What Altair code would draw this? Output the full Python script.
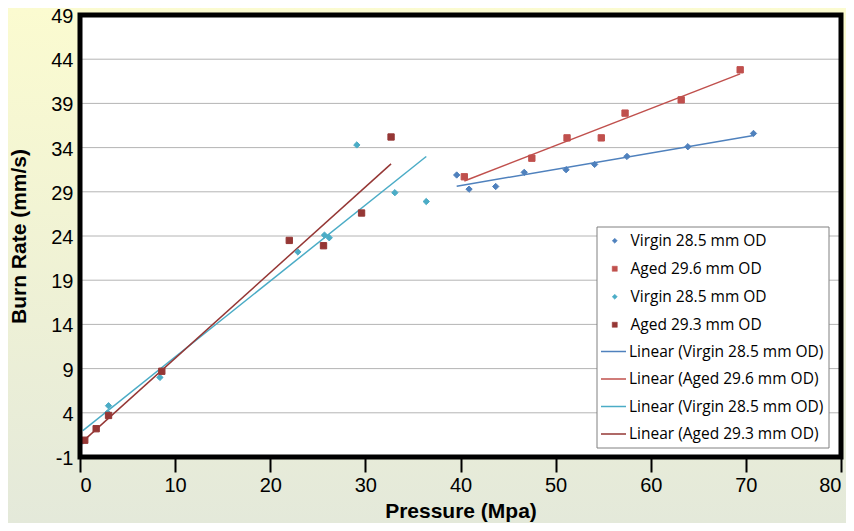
import altair as alt
import pandas as pd

# ---- data ----
v1_x = [39.6, 40.9, 43.7, 46.7, 51.1, 54.1, 57.5, 63.9, 70.8]
v1_y = [30.9, 29.3, 29.6, 31.2, 31.5, 32.1, 33.0, 34.1, 35.6]
a1_x = [40.4, 47.5, 51.2, 54.8, 57.3, 63.2, 69.4]
a1_y = [30.7, 32.8, 35.1, 35.1, 37.9, 39.4, 42.8]
v2_x = [0.3, 2.9, 3.0, 8.4, 22.9, 25.7, 26.2, 29.1, 33.1, 36.4]
v2_y = [0.8, 4.0, 4.8, 8.0, 22.2, 24.1, 23.8, 34.3, 28.9, 27.9]
a2_x = [0.5, 1.7, 3.0, 8.6, 22.0, 25.6, 29.6, 32.7]
a2_y = [0.9, 2.2, 3.7, 8.7, 23.5, 22.9, 26.6, 35.2]

series_names = ["Virgin 28.5 mm OD", "Aged 29.6 mm OD", "Virgin 28.5 mm OD ", "Aged 29.3 mm OD"]
trend_names = ["Linear (Virgin 28.5 mm OD)", "Linear (Aged 29.6 mm OD)",
               "Linear (Virgin 28.5 mm OD) ", "Linear (Aged 29.3 mm OD)"]
series_colors = ["#4F81BD", "#C0504D", "#4BACC6", "#953735"]
series_shapes = ["diamond", "square", "diamond", "square"]

x_ticks = [0, 10, 20, 30, 40, 50, 60, 70, 80]
y_ticks = [-1, 4, 9, 14, 19, 24, 29, 34, 39, 44, 49]

rows = []
for xs, ys, s, t in zip([v1_x, a1_x, v2_x, a2_x], [v1_y, a1_y, v2_y, a2_y], series_names, trend_names):
    for xv, yv in zip(xs, ys):
        rows.append({"x": xv, "y": yv, "series": s, "trend": t})
df = pd.DataFrame(rows)
grid_df = pd.DataFrame({"y": y_ticks})

W, H = 761, 442
PAD = {"left": 72, "top": 7, "right": 5, "bottom": 66}

xscale = alt.Scale(domain=[0, 80], nice=False, zero=False)
yscale = alt.Scale(domain=[-1, 49], nice=False, zero=False)

FONT = "Liberation Sans, Arial, sans-serif"
LFONT = "Open Sans"

x_axis = alt.Axis(values=x_ticks, title="Pressure (Mpa)", grid=False, domain=False,
                  tickSize=15, tickWidth=2, tickColor="black", labelPadding=3,
                  labelFont=FONT, labelFontSize=20, labelColor="black",
                  titleFont=FONT, titleFontSize=21, titleFontWeight="bold", titleColor="black",
                  titleX=W / 2, titleY=54, titleBaseline="middle", zindex=1)
y_axis = alt.Axis(values=y_ticks, title="Burn Rate (mm/s)", grid=False, domain=False,
                  ticks=False, tickSize=0, labelPadding=7, labelOffset=1.5,
                  labelExpr="'' + datum.value",
                  labelFont=FONT, labelFontSize=20, labelColor="black",
                  titleFont=FONT, titleFontSize=21, titleFontWeight="bold", titleColor="black",
                  titleX=-61, titleY=H / 2, titleAngle=-90, titleBaseline="middle",
                  titleAlign="center", zindex=1)

X = alt.X("x:Q", scale=xscale, axis=x_axis)
Y = alt.Y("y:Q", scale=yscale, axis=y_axis)

one = alt.Data(values=[{"a": 1}])

gradient = alt.LinearGradient(
    gradient="linear",
    stops=[alt.GradientStop(color="#FBFBD0", offset=0),
           alt.GradientStop(color="#E4E9DA", offset=1)],
    x1=0, x2=0, y1=0, y2=1)

bg = alt.Chart(one).mark_rect(fill=gradient, strokeWidth=0).encode(
    x=alt.value(-PAD["left"]), x2=alt.value(W + PAD["right"]),
    y=alt.value(-PAD["top"]), y2=alt.value(H + PAD["bottom"]))

plot_bg = alt.Chart(one).mark_rect(fill="white", strokeWidth=0).encode(
    x=alt.value(0), x2=alt.value(W), y=alt.value(0), y2=alt.value(H))

grid = alt.Chart(grid_df).mark_rule(color="#B4B4B4", strokeWidth=1).encode(y=Y)

LEG_X, LEG_Y = 517, 212
legend_box = alt.Chart(one).mark_rect(fill="white", stroke="#808080", strokeWidth=1).encode(
    x=alt.value(LEG_X), x2=alt.value(LEG_X + 232), y=alt.value(LEG_Y), y2=alt.value(LEG_Y + 221))

common_leg = dict(orient="none", title=None, labelFont=LFONT, labelFontSize=15.5,
                  labelColor="black", labelLimit=400, padding=0, zindex=1)

trend = alt.Chart(df).transform_regression(
    "x", "y", groupby=["series", "trend"]
).mark_line(strokeWidth=1.5).encode(
    x=X, y=Y,
    color=alt.Color("trend:N", scale=alt.Scale(domain=trend_names, range=series_colors),
                    legend=alt.Legend(legendX=LEG_X + 3, legendY=LEG_Y + 111,
                                      symbolType="stroke", symbolSize=625, rowPadding=5.5,
                                      symbolStrokeWidth=1.5, labelOffset=2, **common_leg)),
    detail="series:N")

pts_legend = alt.Legend(legendX=LEG_X + 10, legendY=LEG_Y + 6, symbolSize=26, rowPadding=11,
                        symbolStrokeWidth=0.5, labelOffset=8, **common_leg)
pts = alt.Chart(df).mark_point(filled=True, opacity=1, strokeWidth=1, size=40).encode(
    x=X, y=Y,
    fill=alt.Fill("series:N", scale=alt.Scale(domain=series_names, range=series_colors), legend=pts_legend),
    stroke=alt.Stroke("series:N", scale=alt.Scale(domain=series_names, range=series_colors), legend=pts_legend),
    shape=alt.Shape("series:N", scale=alt.Scale(domain=series_names, range=series_shapes), legend=pts_legend),
)

frame = alt.Chart(one).mark_rect(fillOpacity=0, stroke="black", strokeWidth=5).encode(
    x=alt.value(0), x2=alt.value(W), y=alt.value(0), y2=alt.value(H))

chart = alt.layer(bg, plot_bg, grid, trend, pts, frame, legend_box).properties(
    width=W, height=H, padding=PAD,
    autosize=alt.AutoSizeParams(type="none"),
    background="#EEF0D6",
).configure_view(stroke=None)

chart.save("out.html", embed_options={"renderer": "svg", "actions": False})
